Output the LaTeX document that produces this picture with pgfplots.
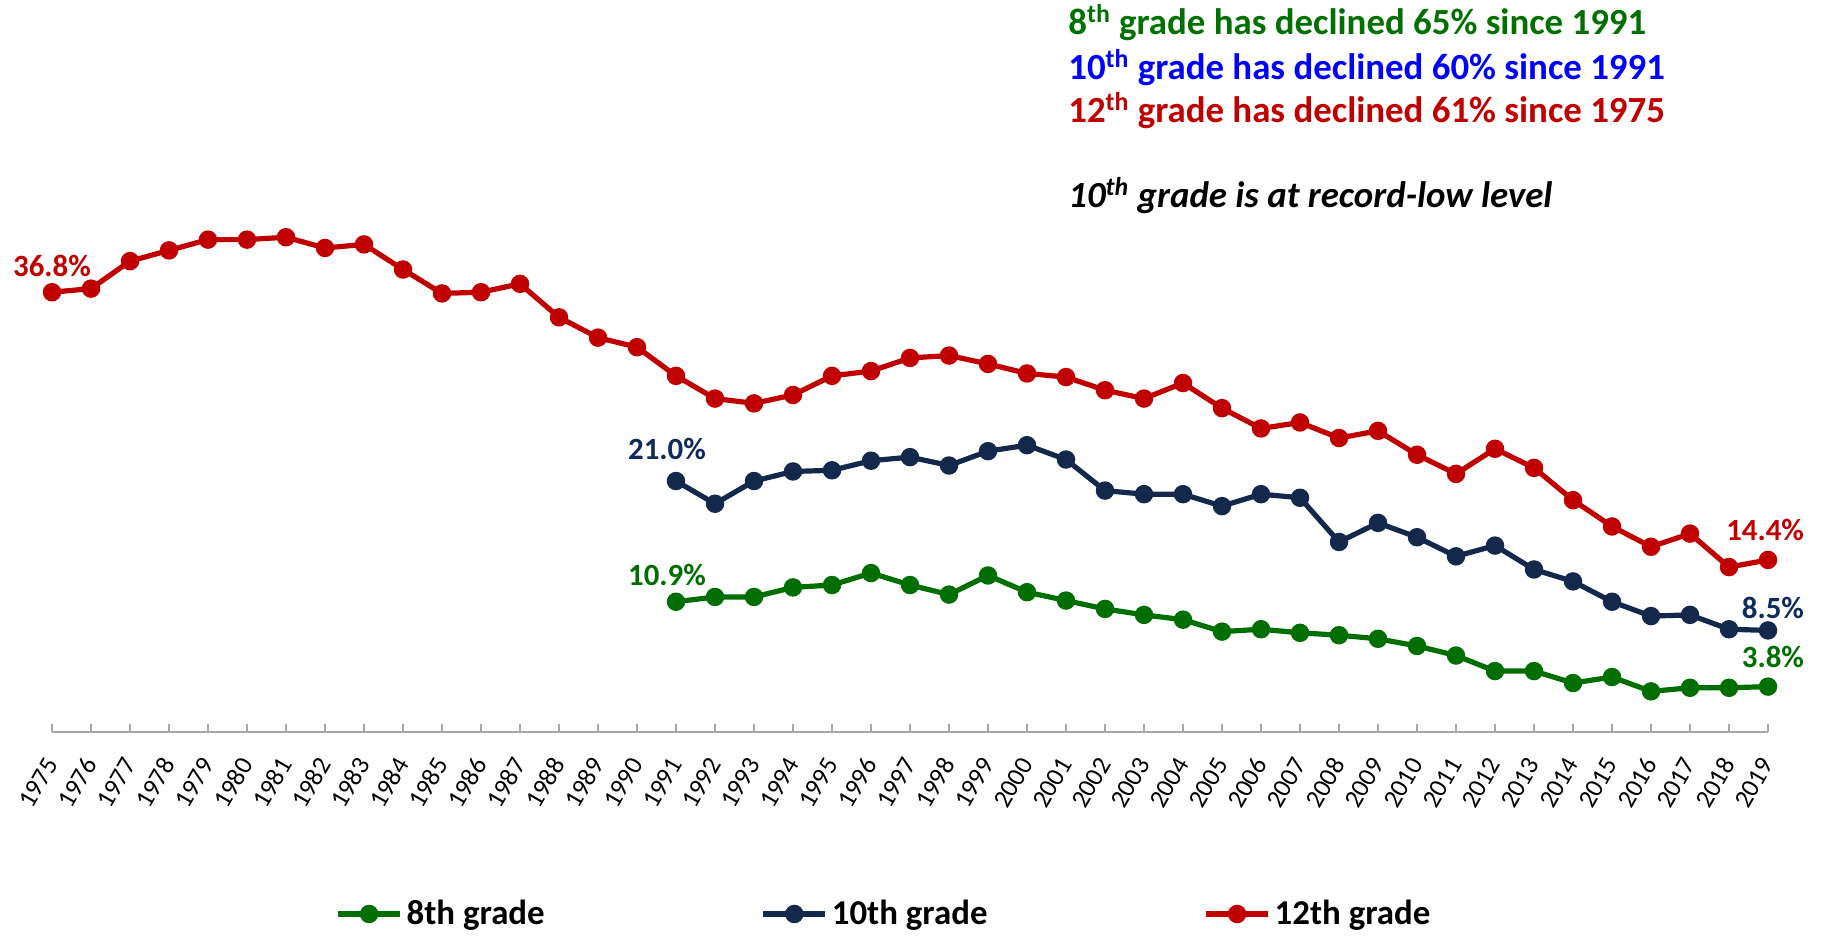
\documentclass[border=0pt]{standalone}
\usepackage{fontspec}
\setmainfont{Carlito}
\usepackage{pgfplots}
\pgfplotsset{compat=1.18}
\definecolor{cred}{HTML}{C00000}
\definecolor{cnavy}{HTML}{14284B}
\definecolor{cnavyl}{HTML}{0F2A5C}
\definecolor{cgreen}{HTML}{006E00}
\definecolor{cgreenl}{HTML}{007000}
\definecolor{cblue}{HTML}{0000FF}
\definecolor{cgrey}{HTML}{A6A6A6}
\newcommand{\lbl}{\fontsize{15.5}{18}\selectfont\bfseries}
\newcommand{\ann}{\fontsize{18.5}{22}\selectfont\bfseries}
\begin{document}
\begin{tikzpicture}
\begin{axis}[
  scale only axis, width=858bp, height=366bp,
  xmin=1975, xmax=2019, ymin=0, ymax=61.25,
  axis x line*=bottom, axis y line=none,
  xtick={1975,...,2019},
  tick align=inside, major tick length=4bp,
  x axis line style={cgrey, line width=1bp},
  xtick style={cgrey, line width=1bp},
  xticklabel style={yshift=-11bp, xshift=1.5bp, rotate=60, anchor=east, font=\fontsize{13}{15}\selectfont,
    /pgf/number format/1000 sep={}, /pgf/number format/assume math mode=true},
  clip=false,
  every axis plot/.append style={line width=2.6bp, mark=*, mark size=3.3bp, mark options={solid}},
  legend columns=3,
  legend style={at={(rel axis cs:0.4854,-0.2486)}, anchor=center, draw=none, fill=none,
    font=\fontsize{17.5}{20}\selectfont\bfseries,
    /tikz/every even column/.append style={column sep=106bp}},
  legend image code/.code={\draw[mark repeat=2,mark phase=2,#1] plot coordinates {(0bp,0bp)(15.5bp,0bp)(31bp,0bp)};},
]
\coordinate (bl) at (rel axis cs:0,0);
\coordinate (tr) at (rel axis cs:1,1);
\addplot[cgreen, mark options={fill=cgreen}] coordinates {
(1991,10.9)(1992,11.3)(1993,11.3)(1994,12.1)(1995,12.3)(1996,13.3)(1997,12.3)(1998,11.5)(1999,13.1)(2000,11.7)
(2001,11.0)(2002,10.3)(2003,9.8)(2004,9.4)(2005,8.4)(2006,8.6)(2007,8.3)(2008,8.1)(2009,7.8)(2010,7.2)
(2011,6.4)(2012,5.1)(2013,5.1)(2014,4.1)(2015,4.6)(2016,3.4)(2017,3.7)(2018,3.7)(2019,3.8)};
\addlegendentry{8th grade}
\addplot[cnavy, mark options={fill=cnavy}] coordinates {
(1991,21.0)(1992,19.1)(1993,21.0)(1994,21.8)(1995,21.9)(1996,22.7)(1997,23.0)(1998,22.3)(1999,23.5)(2000,24.0)
(2001,22.8)(2002,20.2)(2003,19.9)(2004,19.9)(2005,18.9)(2006,19.9)(2007,19.6)(2008,15.9)(2009,17.5)(2010,16.3)
(2011,14.7)(2012,15.6)(2013,13.6)(2014,12.6)(2015,10.9)(2016,9.7)(2017,9.8)(2018,8.6)(2019,8.5)};
\addlegendentry{10th grade}
\addplot[cred, mark options={fill=cred}] coordinates {
(1975,36.8)(1976,37.1)(1977,39.4)(1978,40.3)(1979,41.2)(1980,41.2)(1981,41.4)(1982,40.5)(1983,40.8)(1984,38.7)
(1985,36.7)(1986,36.8)(1987,37.5)(1988,34.7)(1989,33.0)(1990,32.2)(1991,29.8)(1992,27.9)(1993,27.5)(1994,28.2)
(1995,29.8)(1996,30.2)(1997,31.3)(1998,31.5)(1999,30.8)(2000,30.0)(2001,29.7)(2002,28.6)(2003,27.9)(2004,29.2)
(2005,27.1)(2006,25.4)(2007,25.9)(2008,24.6)(2009,25.2)(2010,23.2)(2011,21.6)(2012,23.7)(2013,22.1)(2014,19.4)
(2015,17.2)(2016,15.5)(2017,16.6)(2018,13.8)(2019,14.4)};
\addlegendentry{12th grade}
% data labels
\node[text=cred, font=\lbl, yshift=13bp] at (axis cs:1975,36.8) {36.8\%};
\node[text=cnavyl, font=\lbl, xshift=-4.5bp, yshift=16bp] at (axis cs:1991,21.0) {21.0\%};
\node[text=cgreen, font=\lbl, xshift=-4.5bp, yshift=13.5bp] at (axis cs:1991,10.9) {10.9\%};
\node[text=cred, font=\lbl, anchor=east, xshift=21.5bp, yshift=15bp] at (axis cs:2019,14.4) {14.4\%};
\node[text=cnavyl, font=\lbl, anchor=east, xshift=21.5bp, yshift=11bp] at (axis cs:2019,8.5) {8.5\%};
\node[text=cgreen, font=\lbl, anchor=east, xshift=21.5bp, yshift=15bp] at (axis cs:2019,3.8) {3.8\%};
% annotations
\node[text=cgreenl, font=\ann, anchor=base west, inner sep=0pt] at (axis cs:2001.05,58.33) {8\textsuperscript{th} grade has declined 65\% since 1991};
\node[text=cblue, font=\ann, anchor=base west, inner sep=0pt] at (axis cs:2001.05,54.56) {10\textsuperscript{th} grade has declined 60\% since 1991};
\node[text=cred, font=\ann, anchor=base west, inner sep=0pt] at (axis cs:2001.05,50.96) {12\textsuperscript{th} grade has declined 61\% since 1975};
\node[text=black, font=\ann\itshape, anchor=base west, inner sep=0pt] at (axis cs:2001.05,43.85) {10\textsuperscript{th} grade is at record-low level};
\end{axis}
\path[use as bounding box] ([shift={(-26bp,-101.5bp)}]bl) rectangle ([shift={(28.5bp,0bp)}]tr);
\end{tikzpicture}
\end{document}
